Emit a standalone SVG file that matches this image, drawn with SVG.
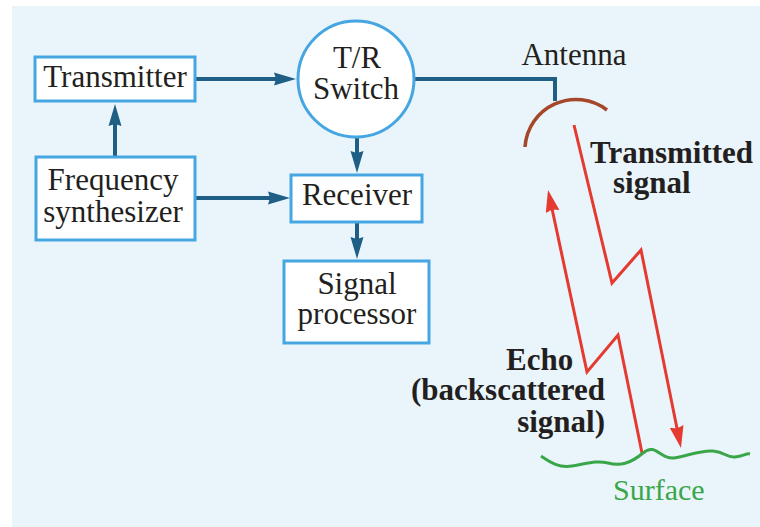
<svg xmlns="http://www.w3.org/2000/svg" width="760" height="527" viewBox="0 0 760 527">
  <style>
    .box { fill: #ffffff; stroke: #45a6e2; stroke-width: 3; }
    .lbl { font-family: "Liberation Serif", "Times New Roman", serif; font-size: 31px; fill: #231f20; text-anchor: middle; }
    .bold { font-family: "Liberation Serif", "Times New Roman", serif; font-size: 31px; font-weight: bold; fill: #231f20; }
    .wire { fill: none; stroke: #1f5f86; stroke-width: 4; }
    .ray { fill: none; stroke: #e53a30; stroke-width: 3; stroke-linejoin: miter; }
  </style>
  <defs>
    <marker id="arrowBlue" viewBox="0 0 22 14" markerWidth="22" markerHeight="14" refX="12" refY="7" orient="auto" markerUnits="userSpaceOnUse">
      <path d="M0,0.5 L22,7 L0,13.5 L2,7 Z" fill="#1f5f86"/>
    </marker>
    <marker id="arrowRed" viewBox="0 0 22 14" markerWidth="22" markerHeight="14" refX="12" refY="7" orient="auto" markerUnits="userSpaceOnUse">
      <path d="M0,0 L22,7 L0,14 L2,7 Z" fill="#e53a30"/>
    </marker>
  </defs>

  <!-- panel background -->
  <rect x="12" y="6" width="748" height="521" fill="#eaf5fb"/>

  <!-- connectors -->
  <g id="connectors">
    <line class="wire" x1="195" y1="79" x2="286" y2="79" marker-end="url(#arrowBlue)"/>
    <line class="wire" x1="115" y1="157" x2="115" y2="114" marker-end="url(#arrowBlue)"/>
    <line class="wire" x1="195" y1="198" x2="280" y2="198" marker-end="url(#arrowBlue)"/>
    <line class="wire" x1="357" y1="137" x2="357" y2="163" marker-end="url(#arrowBlue)"/>
    <line class="wire" x1="357" y1="222" x2="357" y2="249" marker-end="url(#arrowBlue)"/>
    <polyline class="wire" points="414,79 555,79 555,101"/>
  </g>

  <!-- transmitter -->
  <g id="transmitter">
    <rect class="box" x="35" y="57" width="160" height="44"/>
    <text class="lbl" x="115" y="87">Transmitter</text>
  </g>

  <!-- frequency synthesizer -->
  <g id="frequency-synthesizer">
    <rect class="box" x="36" y="157" width="159" height="83"/>
    <text class="lbl" x="113" y="190">Frequency</text>
    <text class="lbl" x="113" y="222">synthesizer</text>
  </g>

  <!-- T/R switch -->
  <g id="tr-switch">
    <circle cx="356" cy="79" r="58" fill="#ffffff" stroke="#45a6e2" stroke-width="3"/>
    <text class="lbl" x="357" y="68">T/R</text>
    <text class="lbl" x="356" y="99">Switch</text>
  </g>

  <!-- receiver -->
  <g id="receiver">
    <rect class="box" x="291" y="175" width="131" height="47"/>
    <text class="lbl" x="357" y="205">Receiver</text>
  </g>

  <!-- signal processor -->
  <g id="signal-processor">
    <rect class="box" x="284" y="261" width="145" height="82"/>
    <text class="lbl" x="357" y="294">Signal</text>
    <text class="lbl" x="357" y="324">processor</text>
  </g>

  <!-- antenna dish -->
  <g id="antenna">
    <path d="M525,147 A51,51 0 0 1 607,110" fill="none" stroke="#a4472b" stroke-width="3.5"/>
    <text class="lbl" x="574" y="65">Antenna</text>
  </g>

  <!-- transmitted and echo rays -->
  <g id="rays">
    <polyline class="ray" points="574,125 612,283 641,250 679,438.2" marker-end="url(#arrowRed)"/>
    <polyline class="ray" points="642,453 618,335 587,372 550.1,199.8" marker-end="url(#arrowRed)"/>
    <text class="bold" x="590" y="163">Transmitted</text>
    <text class="bold" x="613" y="193">signal</text>
    <text class="bold" x="506" y="370">Echo</text>
    <text class="bold" x="605" y="400" text-anchor="end">(backscattered</text>
    <text class="bold" x="605" y="432" text-anchor="end">signal)</text>
  </g>

  <!-- surface -->
  <g id="surface">
    <path d="M541,456 C550,462 558,468 572,466 S596,460 608,463 S630,464 643,453 S660,460 674,458 S700,450 713,451 S726,458 735,457 S746,453 750,454" fill="none" stroke="#3aa64a" stroke-width="3"/>
    <text x="613" y="500" font-family="'Liberation Serif', 'Times New Roman', serif" font-size="30" fill="#3aa64a">Surface</text>
  </g>
</svg>
